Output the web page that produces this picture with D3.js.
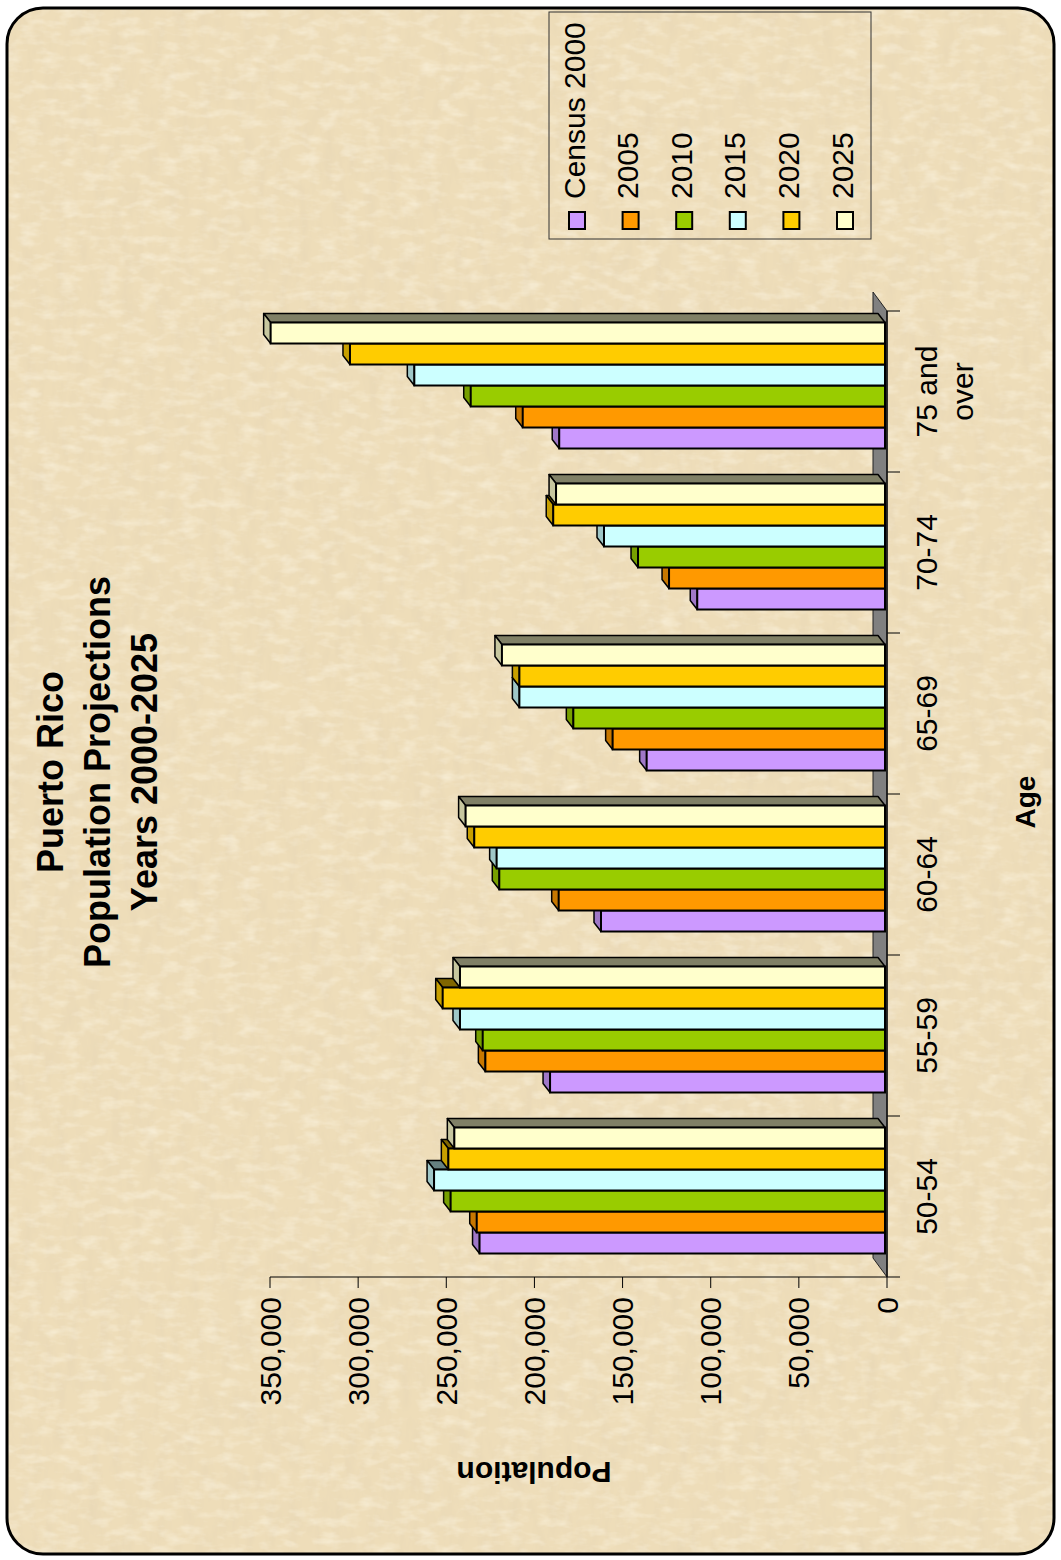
<!DOCTYPE html>
<html>
<head>
<meta charset="utf-8">
<script src="https://cdn.jsdelivr.net/npm/d3@7"></script>
<style>
  html, body { margin: 0; padding: 0; background: #ffffff; }
  svg { display: block; font-family: "Liberation Sans", Arial, sans-serif; }
</style>
</head>
<body>
<script>
// ---------------- DATA ----------------
const categories = ["50-54", "55-59", "60-64", "65-69", "70-74", "75 and over"];
const categoryLabels = [["50-54"], ["55-59"], ["60-64"], ["65-69"], ["70-74"], ["75 and", "over"]];
const seriesNames = ["Census 2000", "2005", "2010", "2015", "2020", "2025"];

const census2000 = [230000, 190000, 161100, 135200, 106500, 184800];
const proj2005   = [231600, 226700, 185100, 154500, 122500, 205500];
const proj2010   = [246400, 228200, 218800, 176800, 140100, 235000];
const proj2015   = [255800, 241100, 220300, 207400, 159400, 267000];
const proj2020   = [247700, 250900, 233000, 207400, 188200, 303500];
const proj2025   = [244300, 241100, 237900, 217300, 186600, 348500];

const valueTicks = [0, 50000, 100000, 150000, 200000, 250000, 300000, 350000];

const titleLines = ["Puerto Rico", "Population Projections", "Years 2000-2025"];
const valueAxisTitle = "Population";
const categoryAxisTitle = "Age";

const seriesColors = ["#CC99FF", "#FF9900", "#99CC00", "#CCFFFF", "#FFCC00", "#FFFFCC"];
const seriesValues = [census2000, proj2005, proj2010, proj2015, proj2020, proj2025];

// ---------------- CHART ----------------
const W = 1061, H = 1560;
const svg = d3.select("body").append("svg").attr("width", W).attr("height", H);
const defs = svg.append("defs");

defs.append("clipPath").attr("id", "frameClip")
  .append("rect").attr("x", 7).attr("y", 8).attr("width", 1047).attr("height", 1546).attr("rx", 36).attr("ry", 36);

const f = defs.append("filter").attr("id", "paper").attr("x", 0).attr("y", 0).attr("width", "100%").attr("height", "100%");
f.append("feTurbulence").attr("type", "fractalNoise").attr("baseFrequency", "0.09 0.028")
  .attr("numOctaves", 4).attr("seed", 7).attr("result", "noise");
f.append("feColorMatrix").attr("in", "noise").attr("type", "matrix")
  .attr("values", "0 0 0 0 0.78  0 0 0 0 0.66  0 0 0 0 0.46  0.9 0 0 0 -0.36");

const f2 = defs.append("filter").attr("id", "paper2").attr("x", 0).attr("y", 0).attr("width", "100%").attr("height", "100%");
f2.append("feTurbulence").attr("type", "fractalNoise").attr("baseFrequency", "0.05 0.11")
  .attr("numOctaves", 3).attr("seed", 3).attr("result", "noise");
f2.append("feColorMatrix").attr("in", "noise").attr("type", "matrix")
  .attr("values", "0 0 0 0 1.0  0 0 0 0 0.96  0 0 0 0 0.84  1.0 0 0 0 -0.45");

const bg = svg.append("g").attr("clip-path", "url(#frameClip)");
bg.append("rect").attr("x", 0).attr("y", 0).attr("width", W).attr("height", H).attr("fill", "#EEDDB9");
bg.append("rect").attr("x", 0).attr("y", 0).attr("width", W).attr("height", H).attr("filter", "url(#paper)");
bg.append("rect").attr("x", 0).attr("y", 0).attr("width", W).attr("height", H).attr("filter", "url(#paper2)");

// scales (chart is rotated: value axis horizontal growing to the left, categories bottom-to-top)
const x = d3.scaleLinear().domain([0, 350000]).range([887, 270]);
const y0 = d3.scaleBand().domain(categories).range([1277, 311])
  .paddingInner(35 / 161).paddingOuter(35 / 322);
const y1 = d3.scaleBand().domain(seriesNames).range([y0.bandwidth(), 0]);
const color = d3.scaleOrdinal().domain(seriesNames).range(seriesColors);

// 3D geometry
const floorDx = -14, floorDy = -19;
const frontDx = -2, frontDy = -6;
const barDx = -7, barDy = -9;

const shade = (c, k) => { const r = d3.rgb(c); return d3.rgb(r.r * k, r.g * k, r.b * k).formatHex(); };

// floor
const fy0 = y0.range()[1], fy1 = y0.range()[0];
const fx = x(0);
svg.append("polygon")
  .attr("points", [[fx, fy0], [fx + floorDx, fy0 + floorDy], [fx + floorDx, fy1 + floorDy], [fx, fy1]].map(p => p.join(",")).join(" "))
  .attr("fill", "#808080").attr("stroke", "#222").attr("stroke-width", 1);

// value axis
const axisY = 1277;
const vAxis = svg.append("g");
vAxis.append("line").attr("x1", x(350000)).attr("x2", x(0)).attr("y1", axisY).attr("y2", axisY)
  .attr("stroke", "#000").attr("stroke-width", 1);
vAxis.selectAll("line.tick").data(valueTicks).join("line").attr("class", "tick")
  .attr("x1", d => x(d)).attr("x2", d => x(d)).attr("y1", axisY).attr("y2", axisY + 11)
  .attr("stroke", "#000").attr("stroke-width", 1);
vAxis.selectAll("text").data(valueTicks).join("text")
  .attr("transform", d => `translate(${x(d)},${axisY + 20}) rotate(-90)`)
  .attr("text-anchor", "end").attr("dy", "0.35em")
  .attr("font-size", 30).attr("fill", "#000")
  .text(d => d3.format(",")(d));

// category axis ticks & labels
svg.append("g").selectAll("line").data(d3.range(categories.length + 1)).join("line")
  .attr("x1", x(0)).attr("x2", x(0) + 13)
  .attr("y1", i => y0.range()[0] - i * y0.step()).attr("y2", i => y0.range()[0] - i * y0.step())
  .attr("stroke", "#000").attr("stroke-width", 1);
svg.append("line").attr("x1", x(0)).attr("x2", x(0)).attr("y1", y0.range()[1]).attr("y2", y0.range()[0])
  .attr("stroke", "#111").attr("stroke-width", 1.5);

const catLab = svg.append("g").selectAll("text").data(categories).join("text")
  .attr("transform", c => `translate(937,${y0(c) + y0.bandwidth() / 2}) rotate(-90)`)
  .attr("text-anchor", "middle").attr("font-size", 30).attr("fill", "#000");
catLab.each(function (c, i) {
  d3.select(this).selectAll("tspan").data(categoryLabels[i]).join("tspan")
    .attr("x", 0).attr("dy", (d, j) => j === 0 ? 0 : "1.2em").text(d => d);
});

// bars
categories.forEach((c, ci) => {
  const g = svg.append("g");
  seriesNames.forEach((s, si) => {
    const v = seriesValues[si][ci];
    const top = y0(c) + y1(s) + frontDy;
    const h = y1.bandwidth();
    const L = x(v) + frontDx, R = x(0) + frontDx;
    const col = color(s);
    // top face
    g.append("polygon")
      .attr("points", [[L, top], [R, top], [R + barDx, top + barDy], [L + barDx, top + barDy]].map(p => p.join(",")).join(" "))
      .attr("fill", shade(col, 0.5)).attr("stroke", "#000").attr("stroke-width", 1.5).attr("stroke-linejoin", "round");
    // end (side) face
    g.append("polygon")
      .attr("points", [[L, top], [L, top + h], [L + barDx, top + h + barDy], [L + barDx, top + barDy]].map(p => p.join(",")).join(" "))
      .attr("fill", shade(col, 0.78)).attr("stroke", "#000").attr("stroke-width", 1.5).attr("stroke-linejoin", "round");
    // front face
    g.append("rect").attr("x", L).attr("y", top).attr("width", R - L).attr("height", h)
      .attr("fill", col).attr("stroke", "#000").attr("stroke-width", 2);
  });
});

// title
svg.append("g").selectAll("text").data(titleLines).join("text")
  .attr("transform", (d, i) => `translate(${63 + i * 47},772) rotate(-90)`)
  .attr("text-anchor", "middle").attr("font-size", 36).attr("font-weight", "bold").attr("fill", "#000")
  .text(d => d);

// axis titles
svg.append("text").attr("transform", "translate(534,1462) rotate(180)")
  .attr("text-anchor", "middle").attr("font-size", 30).attr("font-weight", "bold").text(valueAxisTitle);
svg.append("text").attr("transform", "translate(1035,802) rotate(-90)")
  .attr("text-anchor", "middle").attr("font-size", 28).attr("font-weight", "bold").text(categoryAxisTitle);

// legend
const lg = svg.append("g");
lg.append("rect").attr("x", 549).attr("y", 12).attr("width", 322).attr("height", 227)
  .attr("fill", "none").attr("stroke", "#333").attr("stroke-width", 1);
const lx = d3.scalePoint().domain(seriesNames).range([577, 845]);
const items = lg.selectAll("g.item").data(seriesNames).join("g").attr("class", "item");
items.append("rect").attr("x", d => lx(d) - 8).attr("y", 212).attr("width", 16).attr("height", 17)
  .attr("fill", d => color(d)).attr("stroke", "#000").attr("stroke-width", 2);
items.append("text").attr("transform", d => `translate(${lx(d) - 3},199) rotate(-90)`)
  .attr("dy", "0.35em").attr("font-size", 30).attr("fill", "#000").text(d => d);

// outer frame
svg.append("rect").attr("x", 7).attr("y", 8).attr("width", 1047).attr("height", 1546).attr("rx", 36).attr("ry", 36)
  .attr("fill", "none").attr("stroke", "#000").attr("stroke-width", 3);
</script>
</body>
</html>
